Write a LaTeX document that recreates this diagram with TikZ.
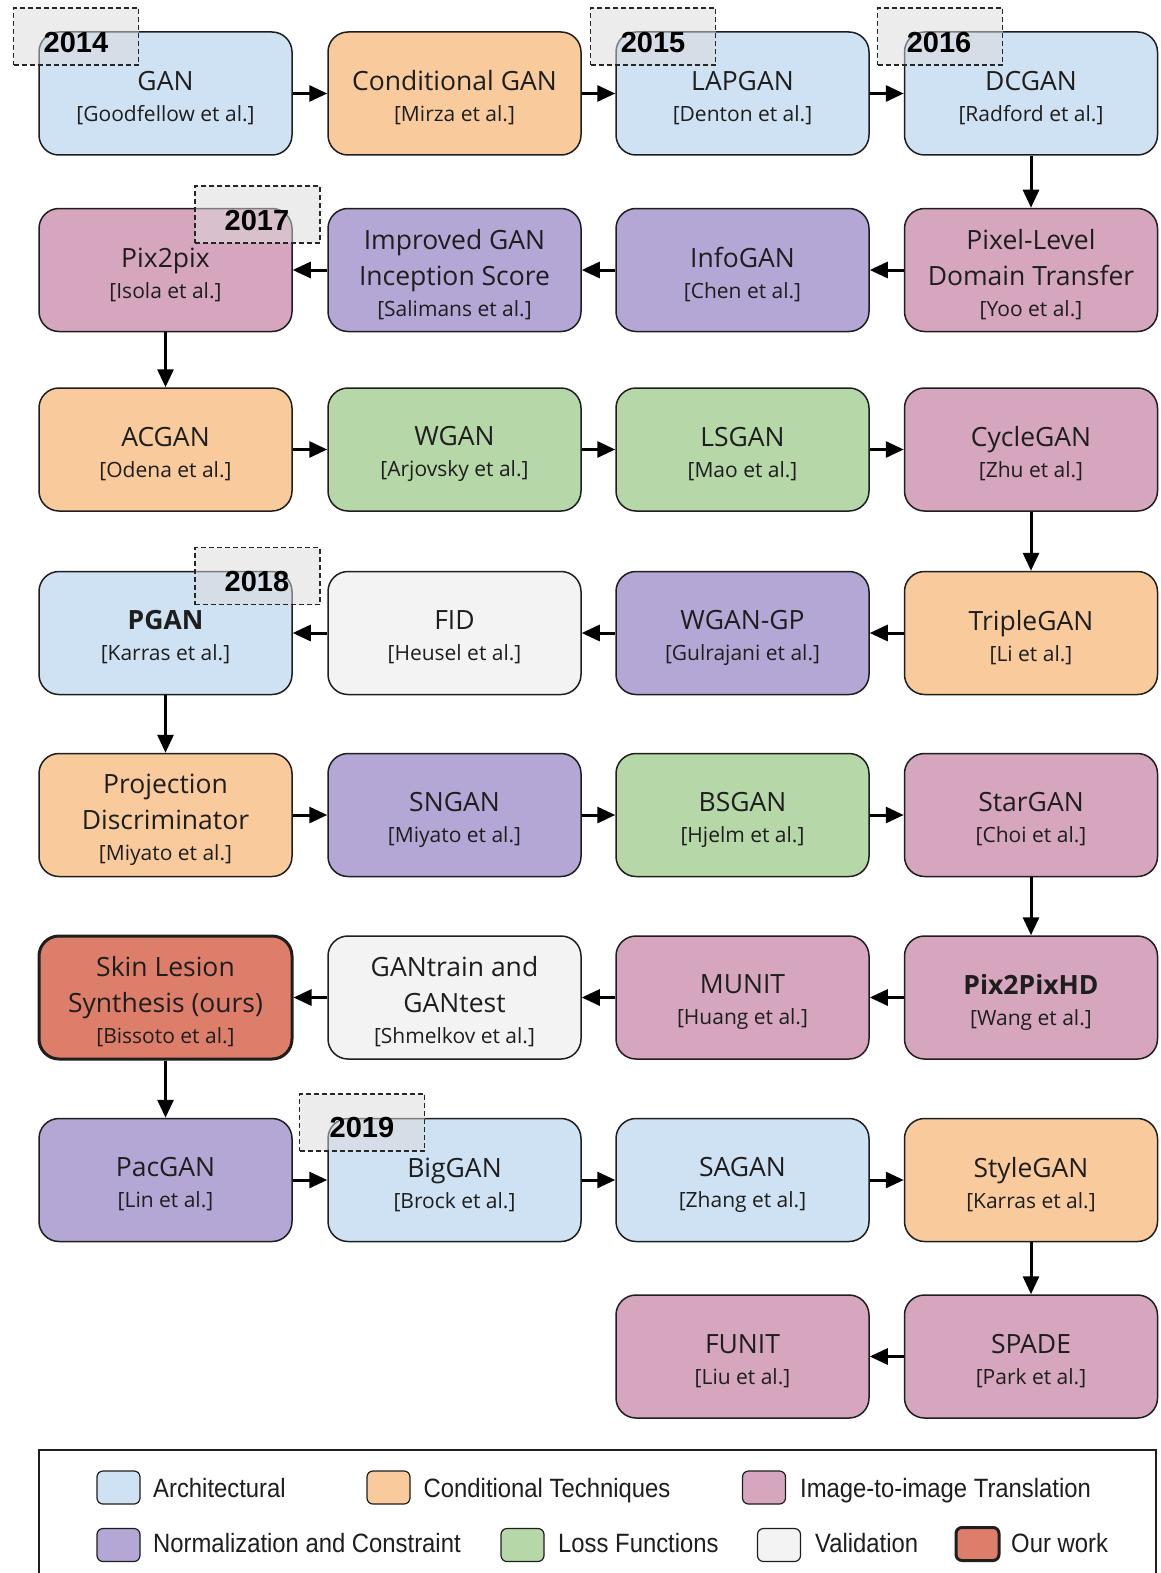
\documentclass[tikz,border=0pt]{standalone}
\usepackage{fontspec}
\setmainfont{Open Sans}
\newfontfamily\yearfont{Liberation Sans}
\newfontfamily\legfont[FakeStretch=0.9]{Liberation Sans}
\usetikzlibrary{arrows.meta}

\definecolor{archc}{HTML}{CFE2F3}
\definecolor{condc}{HTML}{F9CB9C}
\definecolor{itoic}{HTML}{D5A6BD}
\definecolor{normc}{HTML}{B4A7D6}
\definecolor{lossc}{HTML}{B6D7A8}
\definecolor{valc}{HTML}{F3F3F3}
\definecolor{oursc}{HTML}{DD7E6B}
\definecolor{inkc}{HTML}{1E1E1E}

% title line plus the smaller citation line
\newcommand\ttlsub[2]{#1\\[-5pt]{\fontsize{21}{24}\selectfont #2}}
% a method box (#2 = name, #3 = centre) with its label set slightly low
\newcommand\gnode[4]{%
  \node[box, #1] (#2) at (#3) {};
  \node[boxtext] (#2-t) at ([yshift=-4.5pt]#2.center) {#4};}

\tikzset{
  box/.style={draw=inkc, line width=1.5pt, rounded corners=20pt,
    minimum width=253pt, minimum height=123pt, inner sep=0pt},
  boxtext/.style={align=center, inner sep=0pt,
    font=\fontsize{26.5}{36}\selectfont, text=inkc},
  arr/.style={draw=black, line width=3pt, -{Triangle[length=18pt,width=16pt]}},
  yearbox/.style={draw=black!85, line width=1.2pt, dash pattern=on 5pt off 3pt,
    fill=black!14, fill opacity=0.5, minimum width=125pt, minimum height=57pt, inner sep=0pt},
  yeartext/.style={font=\yearfont\bfseries\fontsize{29}{29}\selectfont, inner sep=0pt},
  swatch/.style={draw=inkc, line width=1.2pt, rounded corners=6pt,
    minimum width=43pt, minimum height=33pt, inner sep=0pt},
  legtext/.style={anchor=base west, font=\legfont\fontsize{26.5}{28}\selectfont, inner sep=0pt, text=inkc},
}

\begin{document}
\begin{tikzpicture}[x=1pt, y=-1pt]
\useasboundingbox[fill=white] (0,0) rectangle (1161,1573);

% ---- row 1
\gnode{fill=archc}{gan}{165.5,93.5}{\ttlsub{GAN}{[Goodfellow et al.]}}
\gnode{fill=condc}{cgan}{454.5,93.5}{\ttlsub{Conditional GAN}{[Mirza et al.]}}
\gnode{fill=archc}{lapgan}{742.5,93.5}{\ttlsub{LAPGAN}{[Denton et al.]}}
\gnode{fill=archc}{dcgan}{1031,93.5}{\ttlsub{DCGAN}{[Radford et al.]}}
% ---- row 2
\gnode{fill=itoic}{pixtopix}{165.5,270}{\ttlsub{Pix2pix}{[Isola et al.]}}
\gnode{fill=normc}{impgan}{454.5,270}{Improved GAN\\\ttlsub{Inception Score}{[Salimans et al.]}}
\gnode{fill=normc}{infogan}{742.5,270}{\ttlsub{InfoGAN}{[Chen et al.]}}
\gnode{fill=itoic}{pixlvl}{1031,270}{Pixel-Level\\\ttlsub{Domain Transfer}{[Yoo et al.]}}
% ---- row 3
\gnode{fill=condc}{acgan}{165.5,449.5}{\ttlsub{ACGAN}{[Odena et al.]}}
\gnode{fill=lossc}{wgan}{454.5,449.5}{\ttlsub{WGAN}{[Arjovsky et al.]}}
\gnode{fill=lossc}{lsgan}{742.5,449.5}{\ttlsub{LSGAN}{[Mao et al.]}}
\gnode{fill=itoic}{cyclegan}{1031,449.5}{\ttlsub{CycleGAN}{[Zhu et al.]}}
% ---- row 4
\gnode{fill=archc}{pgan}{165.5,633}{\ttlsub{\textbf{PGAN}}{[Karras et al.]}}
\gnode{fill=valc}{fid}{454.5,633}{\ttlsub{FID}{[Heusel et al.]}}
\gnode{fill=normc}{wgangp}{742.5,633}{\ttlsub{WGAN-GP}{[Gulrajani et al.]}}
\gnode{fill=condc}{triplegan}{1031,633}{\ttlsub{TripleGAN}{[Li et al.]}}
% ---- row 5
\gnode{fill=condc}{projd}{165.5,815}{Projection\\\ttlsub{Discriminator}{[Miyato et al.]}}
\gnode{fill=normc}{sngan}{454.5,815}{\ttlsub{SNGAN}{[Miyato et al.]}}
\gnode{fill=lossc}{bsgan}{742.5,815}{\ttlsub{BSGAN}{[Hjelm et al.]}}
\gnode{fill=itoic}{stargan}{1031,815}{\ttlsub{StarGAN}{[Choi et al.]}}
% ---- row 6
\gnode{fill=oursc, line width=3pt}{ours}{165.5,997.5}{Skin Lesion\\\ttlsub{Synthesis (ours)}{[Bissoto et al.]}}
\gnode{fill=valc}{gantrain}{454.5,997.5}{GANtrain and\\\ttlsub{GANtest}{[Shmelkov et al.]}}
\gnode{fill=itoic}{munit}{742.5,997.5}{\ttlsub{MUNIT}{[Huang et al.]}}
\gnode{fill=itoic}{pixtopixhd}{1031,997.5}{\ttlsub{\textbf{Pix2PixHD}}{[Wang et al.]}}
% ---- row 7
\gnode{fill=normc}{pacgan}{165.5,1180}{\ttlsub{PacGAN}{[Lin et al.]}}
\gnode{fill=archc}{biggan}{454.5,1180}{\ttlsub{BigGAN}{[Brock et al.]}}
\gnode{fill=archc}{sagan}{742.5,1180}{\ttlsub{SAGAN}{[Zhang et al.]}}
\gnode{fill=condc}{stylegan}{1031,1180}{\ttlsub{StyleGAN}{[Karras et al.]}}
% ---- row 8
\gnode{fill=itoic}{funit}{742.5,1356.5}{\ttlsub{FUNIT}{[Liu et al.]}}
\gnode{fill=itoic}{spade}{1031,1356.5}{\ttlsub{SPADE}{[Park et al.]}}

% ---- connectors
\draw[arr] (gan) -- (cgan);
\draw[arr] (cgan) -- (lapgan);
\draw[arr] (lapgan) -- (dcgan);
\draw[arr] (dcgan) -- (pixlvl);
\draw[arr] (pixlvl) -- (infogan);
\draw[arr] (infogan) -- (impgan);
\draw[arr] (impgan) -- (pixtopix);
\draw[arr] (pixtopix) -- (acgan);
\draw[arr] (acgan) -- (wgan);
\draw[arr] (wgan) -- (lsgan);
\draw[arr] (lsgan) -- (cyclegan);
\draw[arr] (cyclegan) -- (triplegan);
\draw[arr] (triplegan) -- (wgangp);
\draw[arr] (wgangp) -- (fid);
\draw[arr] (fid) -- (pgan);
\draw[arr] (pgan) -- (projd);
\draw[arr] (projd) -- (sngan);
\draw[arr] (sngan) -- (bsgan);
\draw[arr] (bsgan) -- (stargan);
\draw[arr] (stargan) -- (pixtopixhd);
\draw[arr] (pixtopixhd) -- (munit);
\draw[arr] (munit) -- (gantrain);
\draw[arr] (gantrain) -- (ours);
\draw[arr] (ours) -- (pacgan);
\draw[arr] (pacgan) -- (biggan);
\draw[arr] (biggan) -- (sagan);
\draw[arr] (sagan) -- (stylegan);
\draw[arr] (stylegan) -- (spade);
\draw[arr] (spade) -- (funit);

% ---- year markers
\node[yearbox] (yb2014) at (76,36.5) {};
\node[yeartext] (y2014) at (76,43) {2014};
\node[yearbox] (yb2015) at (653,36.5) {};
\node[yeartext] (y2015) at (653,43) {2015};
\node[yearbox] (yb2016) at (940,36.5) {};
\node[yeartext] (y2016) at (939,43) {2016};
\node[yearbox] (yb2017) at (257.5,214.5) {};
\node[yeartext] (y2017) at (257,221) {2017};
\node[yearbox] (yb2018) at (257.5,576) {};
\node[yeartext] (y2018) at (257,582) {2018};
\node[yearbox] (yb2019) at (362,1122.5) {};
\node[yeartext] (y2019) at (362,1128) {2019};

% ---- legend
\draw[draw=inkc, line width=1.5pt] (39,1590) -- (39,1450) -- (1156,1450) -- (1156,1590);
\node[swatch, fill=archc] (sw1) at (118.5,1487.5) {};
\node[legtext] (lg1) at (153,1497) {Architectural};
\node[swatch, fill=condc] (sw2) at (388.5,1487.5) {};
\node[legtext] (lg2) at (423.5,1497) {Conditional Techniques};
\node[swatch, fill=itoic] (sw3) at (764,1487.5) {};
\node[legtext] (lg3) at (800,1497) {Image-to-image Translation};
\node[swatch, fill=normc] (sw4) at (118.5,1545) {};
\node[legtext] (lg4) at (153,1552) {Normalization and Constraint};
\node[swatch, fill=lossc] (sw5) at (522.5,1545) {};
\node[legtext] (lg5) at (558,1552) {Loss Functions};
\node[swatch, fill=valc] (sw6) at (779,1545) {};
\node[legtext] (lg6) at (815,1552) {Validation};
\node[swatch, fill=oursc, line width=3pt] (sw7) at (977.5,1544) {};
\node[legtext] (lg7) at (1011,1552) {Our work};
\end{tikzpicture}
\end{document}
